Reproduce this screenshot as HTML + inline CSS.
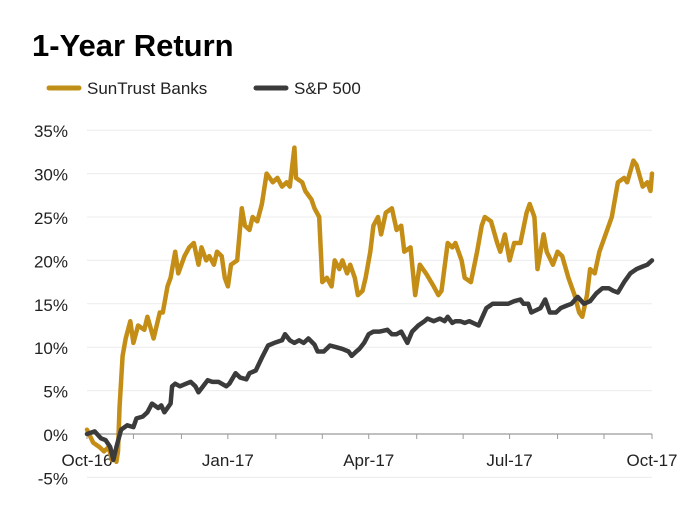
<!DOCTYPE html>
<html><head><meta charset="utf-8"><style>
body{margin:0;background:#fff;}
svg{display:block;font-family:"Liberation Sans",sans-serif;}
</style></head><body>
<svg id="chart" width="700" height="514" viewBox="0 0 700 514">
<text x="32" y="56" font-size="31" font-weight="bold" fill="#000">1-Year Return</text>
<g>
<line x1="49" y1="88" x2="79" y2="88" stroke="#C08F18" stroke-width="5" stroke-linecap="round"/>
<text x="87" y="94" font-size="17" fill="#222">SunTrust Banks</text>
<line x1="256" y1="88" x2="286" y2="88" stroke="#3b3b3b" stroke-width="5" stroke-linecap="round"/>
<text x="294" y="94" font-size="17" fill="#222">S&amp;P 500</text>
</g>
<g id="grid"></g><g id="axes"></g><g id="series"></g>
</svg>
<script>
const yTicks=[-5,0,5,10,15,20,25,30,35];
const yTickLabels=["-5%","0%","5%","10%","15%","20%","25%","30%","35%"];
const xTickDays=[0,91,182,273,365];
const xTickLabels=["Oct-16","Jan-17","Apr-17","Jul-17","Oct-17"];
const monthDays=[0,30,61,91,122,152,182,213,243,273,304,334,365];
const stiDays=[0,4,8,11,14,16,18,19,20,21,23,25,28,30,33,37,39,43,47,49,52,54,57,59,63,66,69,72,74,77,79,82,84,87,89,91,93,97,100,102,105,107,110,113,116,120,123,126,129,131,134,135,139,141,145,147,150,152,155,158,160,163,165,168,170,173,175,178,180,183,185,188,190,193,197,200,203,205,209,212,215,219,224,227,229,233,236,238,242,244,248,252,255,257,261,265,267,270,273,276,280,284,286,289,291,295,297,301,304,307,311,315,318,320,323,325,328,331,335,339,343,347,349,353,355,359,362,364,365];
const stiValues=[0.5,-1,-1.5,-2,-1.5,-3,-2.5,-3.2,-2,3,9,11,13,10.5,12.5,12,13.5,11,14,14,17,18,21,18.5,20.5,21.5,22,19.5,21.5,20,20.5,19.5,21,20.5,18,17,19.5,20,26,24,23.5,25,24.5,26.5,30,29,29.5,28.5,29,28.5,33,29.5,29,28,27,26,25,17.5,18,17,20,19,20,18.5,19.5,18,16,16.5,18,21,24,25,23,25.5,26,23.5,24,21,21.5,16,19.5,18.5,17,16,16.5,22,21.5,22,20,18,17.5,21,24,25,24.5,22,21,23,20,22,22,25.5,26.5,25,19,23,21,19.5,21,20.5,18,16,14,13.5,16,19,18.5,21,23,25,29,29.5,29,31.5,31,28.5,29,28,30];
const spDays=[0,5,9,12,15,17,19,22,26,30,32,36,39,42,46,48,50,54,55,57,60,64,67,70,72,75,78,81,85,87,90,92,96,99,103,105,109,113,117,121,126,128,131,134,137,140,143,147,149,153,157,161,165,169,171,174,176,179,182,185,189,194,197,200,203,207,210,214,218,220,224,228,231,233,236,238,241,244,247,253,255,258,262,267,272,276,280,282,285,287,293,296,299,303,306,310,313,317,321,325,329,333,337,340,343,347,351,355,359,362,365];
const spValues=[0,0.3,-0.5,-0.7,-1.5,-3,-1.5,0.5,1.0,0.8,1.8,2.0,2.5,3.5,3.0,3.3,2.5,3.5,5.5,5.8,5.5,5.8,6.0,5.5,4.8,5.5,6.2,6.0,6.0,5.8,5.5,5.8,7.0,6.5,6.3,7.0,7.3,8.8,10.2,10.5,10.8,11.5,10.8,10.5,10.8,10.5,11.0,10.3,9.5,9.5,10.2,10.0,9.8,9.5,9.0,9.5,9.8,10.5,11.5,11.8,11.8,12.0,11.5,11.5,11.8,10.5,11.8,12.5,13.0,13.3,13.0,13.3,13.0,13.5,12.8,13.0,13.0,12.8,13.0,12.5,13.3,14.5,15.0,15.0,15.0,15.3,15.5,15.0,15.0,14.0,14.5,15.5,14.0,14.0,14.5,14.8,15.0,15.8,15.0,15.3,16.2,16.8,16.8,16.5,16.3,17.5,18.5,19.0,19.3,19.5,20.0];

const NS="http://www.w3.org/2000/svg";
const X0=87,X1=652,Y0=434,PER5=43.4;
const xs=d=>X0+(d/365)*(X1-X0);
const ys=v=>Y0-(v/5)*PER5;
function mk(tag,attrs,parent){const e=document.createElementNS(NS,tag);for(const k in attrs)e.setAttribute(k,attrs[k]);parent.appendChild(e);return e;}
const grid=document.getElementById('grid'),axes=document.getElementById('axes'),series=document.getElementById('series');
yTicks.forEach((v,i)=>{
  if(v!==0){const g=mk('line',{x1:X0,x2:X1,y1:ys(v),y2:ys(v),stroke:'#ececec','stroke-width':1},grid);
  
  }
  const t=mk('text',{x:68,y:ys(v)+7,'text-anchor':'end','font-size':17,fill:'#222'},axes);
  t.textContent=yTickLabels[i];
  
  
});
const ax=mk('line',{x1:X0,x2:X1,y1:Y0,y2:Y0,stroke:'#9a9a9a','stroke-width':1.2},axes);


monthDays.forEach(d=>{
  const tk=mk('line',{x1:xs(d),x2:xs(d),y1:Y0,y2:Y0+5,stroke:'#9a9a9a','stroke-width':1},axes);
  
  
});
xTickDays.forEach((d,i)=>{
  const t=mk('text',{x:xs(d),y:466,'text-anchor':'middle','font-size':17,fill:'#222'},axes);
  t.textContent=xTickLabels[i];
  
  
});
function line(days,vals,color,name){
  const d=days.map((dd,i)=>(i?'L':'M')+xs(dd).toFixed(1)+','+ys(vals[i]).toFixed(1)).join(' ');
  const p=mk('path',{d:d,fill:'none',stroke:color,'stroke-width':4.5,'stroke-linejoin':'round','stroke-linecap':'round'},series);
  
  
}
line(stiDays,stiValues,'#C48D16','suntrust-line');
line(spDays,spValues,'#3b3b3b','sp500-line');
</script>
</body></html>
